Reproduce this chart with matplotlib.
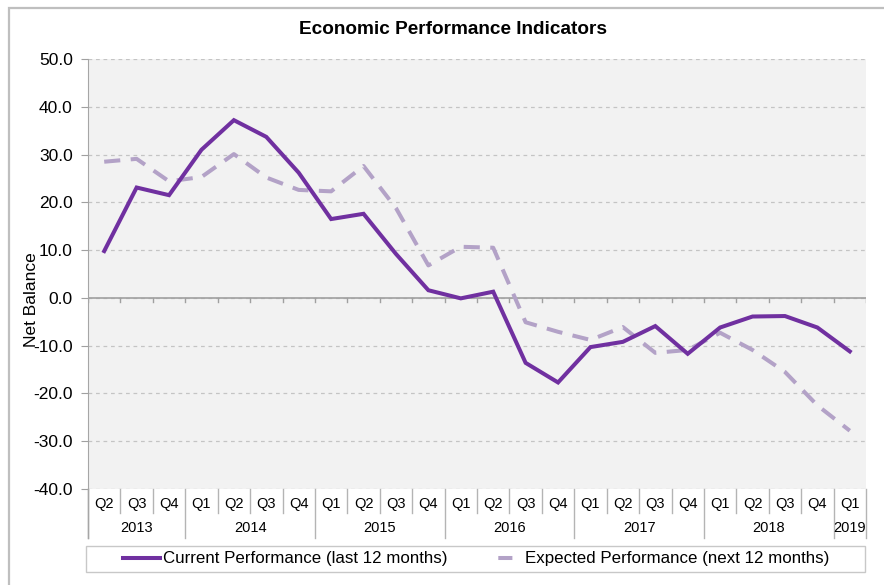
import numpy as np
import matplotlib.pyplot as plt
from matplotlib.lines import Line2D
from matplotlib.patches import Rectangle
import matplotlib.transforms as mtransforms

plt.rcParams['font.family'] = ['Liberation Sans', 'DejaVu Sans']

# data
quarters = ['Q2', 'Q3', 'Q4',
            'Q1', 'Q2', 'Q3', 'Q4',
            'Q1', 'Q2', 'Q3', 'Q4',
            'Q1', 'Q2', 'Q3', 'Q4',
            'Q1', 'Q2', 'Q3', 'Q4',
            'Q1', 'Q2', 'Q3', 'Q4',
            'Q1']
years = ['2013', '2014', '2015', '2016', '2017', '2018', '2019']
year_counts = [3, 4, 4, 4, 4, 4, 1]

current = [9.8, 23.1, 21.5, 31.0, 37.2, 33.7, 26.2,
           16.5, 17.6, 9.2, 1.6, -0.1, 1.3, -13.6, -17.7,
           -10.3, -9.2, -5.9, -11.7, -6.2, -3.9, -3.8, -6.2, -11.2]
expected = [28.5, 29.1, 24.4, 25.3, 30.1, 25.2, 22.6,
            22.3, 27.6, 18.8, 6.8, 10.7, 10.5, -5.1, -7.1,
            -8.8, -6.1, -11.5, -10.9, -7.3, -10.9, -15.5, -22.5, -27.8]

purple = '#7030a0'
lilac = '#b3a2c7'

fig = plt.figure(figsize=(8.84, 5.85), dpi=100)
ax = fig.add_axes([88/884, 96/585, 778/884, 430/585])
ax.set_facecolor('#f2f2f2')

x = np.arange(len(quarters)) + 0.5
ax.plot(x, current, color=purple, lw=2.9, solid_joinstyle='miter', zorder=4)
ax.plot(x, expected, color=lilac, lw=2.9, linestyle=(0, (4, 2.6)), zorder=3)

ax.set_xlim(0, len(quarters))
ax.set_ylim(-40, 50)
ax.set_yticks(np.arange(-40, 51, 10))
ax.set_yticklabels(['%.1f' % v for v in np.arange(-40, 51, 10)], fontsize=12.5)
ax.yaxis.grid(True, color='#c4c4c4', linestyle=(0, (3, 3)), lw=0.9)
ax.set_axisbelow(True)
ax.tick_params(axis='y', length=5, color='#a0a0a0', pad=6)
ax.set_xticks([])
for s in ['top', 'right', 'bottom']:
    ax.spines[s].set_visible(False)
ax.spines['left'].set_color('#a6a6a6')
ax.spines['left'].set_bounds(-40, 50)

# zero line with category ticks
ax.axhline(0, color='#a0a0a0', lw=1.2, zorder=2)
for i in range(len(quarters) + 1):
    ax.plot([i, i], [0, -0.9], color='#a0a0a0', lw=1, zorder=2)

ax.set_ylabel('Net Balance', fontsize=12.5)
ax.yaxis.set_label_coords(-0.063, 0.44)

# category axis labels under the plot
trans = mtransforms.blended_transform_factory(ax.transData, ax.transAxes)
for i, q in enumerate(quarters):
    ax.text(i + 0.5, -0.034, q, transform=trans, ha='center', va='center',
            fontsize=10.5)
starts = np.concatenate([[0], np.cumsum(year_counts)])
for i in range(len(quarters) + 1):
    if i in starts:
        y_end = -0.113
    else:
        y_end = -0.055
    ax.plot([i, i], [0, y_end], transform=trans, color='#b4b4b4', lw=1,
            clip_on=False)
ax.plot([0, 0], [0, -0.113], transform=trans, color='#a6a6a6', lw=1,
        clip_on=False)
for k, yr in enumerate(years):
    mid = (starts[k] + starts[k + 1]) / 2
    ax.text(mid, -0.091, yr, transform=trans, ha='center', va='center',
            fontsize=10.5)

# legend
fig.patches.append(Rectangle((86/884, 13/585), 779/884, 26/585,
                             transform=fig.transFigure, fill=False,
                             edgecolor='#c8c8c8', lw=1))
h1 = Line2D([], [], color=purple, lw=2.9)
h2 = Line2D([], [], color=lilac, lw=2.9, linestyle=(4.9, (3.5, 4.7)))
fig.legend([h1, h2], ['Current Performance (last 12 months)',
                      'Expected Performance (next 12 months)'],
           loc='center', bbox_to_anchor=(111/884, 13/585, 730/884, 26/585),
           mode='expand', ncol=2, frameon=False, fontsize=12.2,
           handlelength=2.2, handletextpad=0.15, borderpad=0.2)

fig.text(453/884, 1 - 30/585, 'Economic Performance Indicators',
         ha='center', va='center', fontsize=13.7, fontweight='bold')

# outer chart border
fig.patches.append(Rectangle((9/884, -0.1), 1.0, 1 - 8/585 + 0.1,
                             transform=fig.transFigure, fill=False,
                             edgecolor='#bfbfbf', lw=1.6))

fig.savefig('out.png', dpi=100)
